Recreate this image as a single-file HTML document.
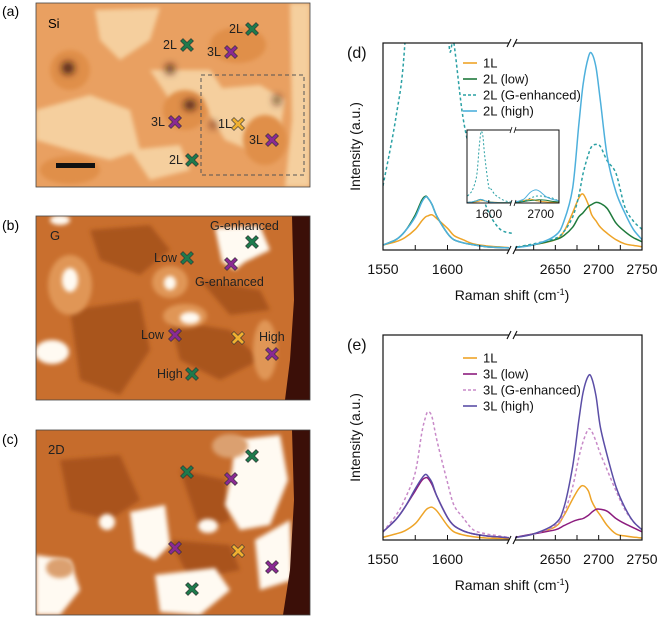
<!DOCTYPE html>
<html><head><meta charset="utf-8"><style>
body{margin:0;background:#fff;}
svg{display:block;font-family:"Liberation Sans",sans-serif;}
</style></head><body>
<svg id="fig" width="660" height="618" viewBox="0 0 660 618" xmlns="http://www.w3.org/2000/svg">
<defs>
<filter id="blur2" x="-20%" y="-20%" width="140%" height="140%"><feGaussianBlur stdDeviation="2"/></filter>
<filter id="blur4" x="-50%" y="-50%" width="200%" height="200%"><feGaussianBlur stdDeviation="4"/></filter>
<clipPath id="clipA"><rect x="36" y="3" width="274" height="184"/></clipPath>
<clipPath id="clipB"><rect x="36" y="216" width="274" height="184"/></clipPath>
<clipPath id="clipC"><rect x="36" y="430" width="274" height="185"/></clipPath>
<g id="xm"><path d="M-6.5,-4 L-4,-6.5 L0,-2.5 L4,-6.5 L6.5,-4 L2.5,0 L6.5,4 L4,6.5 L0,2.5 L-4,6.5 L-6.5,4 L-2.5,0 Z" stroke="#333" stroke-width="0.6"/></g>
</defs>

<!-- Panel a -->
<text x="2" y="16" font-size="14">(a)</text>
<g clip-path="url(#clipA)">
<rect x="36" y="3" width="274" height="184" fill="#e9a061"/>
<g filter="url(#blur2)" fill="#f5cf9e">
<path d="M95,10 L160,8 L150,40 L120,60 L100,40 Z"/>
<path d="M36,110 L90,95 L130,110 L140,150 L110,160 L70,150 L36,140 Z"/>
<path d="M150,70 L210,70 L230,100 L200,110 L170,100 Z"/>
<path d="M200,90 L260,85 L285,100 L280,130 L250,150 L225,140 L210,115 Z"/>
<path d="M290,3 L310,3 L310,187 L285,187 L292,120 Z"/>
<path d="M130,150 L180,145 L190,170 L150,180 Z"/>
</g>
<g filter="url(#blur2)" fill="#e08f48">
<ellipse cx="238" cy="45" rx="28" ry="18"/>
<ellipse cx="265" cy="140" rx="22" ry="25"/>
<ellipse cx="185" cy="110" rx="22" ry="20"/>
<ellipse cx="70" cy="70" rx="20" ry="20"/>
<ellipse cx="70" cy="170" rx="30" ry="14"/>
</g>
<g filter="url(#blur4)" fill="#3a1408">
<ellipse cx="68" cy="68" rx="6" ry="6"/>
<ellipse cx="170" cy="69" rx="4" ry="5"/>
<ellipse cx="190" cy="105" rx="6" ry="5"/>
<ellipse cx="277" cy="100" rx="3" ry="5"/>
<ellipse cx="213" cy="125" rx="3" ry="3"/>
</g>
</g>
<rect x="36" y="3" width="274" height="184" fill="none" stroke="#444" stroke-width="0.8"/>
<text x="48" y="28" font-size="13">Si</text>
<rect x="201" y="75" width="103" height="100" fill="none" stroke="#555" stroke-width="1" stroke-dasharray="4,3"/>
<rect x="56" y="163" width="39" height="5" fill="#111"/>

<!-- Panel b -->
<text x="2" y="230" font-size="14">(b)</text>
<g clip-path="url(#clipB)">
<rect x="36" y="216" width="274" height="184" fill="#c96f2e"/>
<g filter="url(#blur2)" fill="#a9541f">
<path d="M90,230 L150,225 L170,250 L140,275 L100,260 Z"/>
<path d="M70,310 L140,300 L150,350 L120,395 L80,380 Z"/>
<path d="M170,320 L230,330 L260,360 L220,380 L180,360 Z"/>
<path d="M200,280 L260,290 L270,310 L230,315 Z"/>
</g>
<g filter="url(#blur2)" fill="#e09656">
<ellipse cx="70" cy="285" rx="22" ry="30"/>
<ellipse cx="170" cy="282" rx="18" ry="16"/>
<ellipse cx="185" cy="316" rx="22" ry="12"/>
<ellipse cx="265" cy="350" rx="12" ry="30"/>
</g>
<g filter="url(#blur2)" fill="#fffaf2">
<path d="M215,228 L260,226 L270,250 L245,262 L235,270 L222,262 Z"/>
<ellipse cx="70" cy="280" rx="8" ry="12"/>
<ellipse cx="170" cy="283" rx="6" ry="7"/>
<ellipse cx="52" cy="352" rx="17" ry="12"/>
<ellipse cx="190" cy="318" rx="10" ry="6"/>
<ellipse cx="60" cy="220" rx="10" ry="5"/>
</g>
<path d="M292,216 L310,216 L310,400 L285,400 L290,360 L294,300 Z" fill="#3b0f08"/>
</g>
<rect x="36" y="216" width="274" height="184" fill="none" stroke="#444" stroke-width="0.8"/>
<text x="50" y="240" font-size="13" fill="#222">G</text>

<!-- Panel c -->
<text x="2" y="444" font-size="14">(c)</text>
<g clip-path="url(#clipC)">
<rect x="36" y="430" width="274" height="185" fill="#c66c2c"/>
<g filter="url(#blur2)" fill="#a9531f">
<path d="M60,460 L120,455 L140,500 L110,520 L70,510 Z"/>
<path d="M180,470 L225,480 L230,520 L200,530 Z"/>
<path d="M170,540 L230,545 L240,570 L190,580 Z"/>
</g>
<g filter="url(#blur2)" fill="#fffaf2">
<path d="M235,440 L280,435 L288,480 L270,525 L240,530 L225,505 L232,470 Z"/>
<path d="M130,512 L165,505 L170,545 L155,560 L135,550 Z"/>
<path d="M155,575 L215,568 L230,590 L200,615 L160,612 Z"/>
<path d="M255,540 L290,520 L292,580 L260,590 Z"/>
<path d="M36,555 L70,560 L80,590 L60,615 L36,615 Z"/>
<ellipse cx="107" cy="522" rx="8" ry="8"/>
<ellipse cx="208" cy="526" rx="10" ry="7"/>
</g>
<g filter="url(#blur2)" fill="#dba070"><ellipse cx="230" cy="446" rx="18" ry="12"/><ellipse cx="60" cy="568" rx="14" ry="10"/></g>
<path d="M292,430 L310,430 L310,615 L283,615 L290,570 L294,500 Z" fill="#3b0f08"/>
</g>
<rect x="36" y="430" width="274" height="185" fill="none" stroke="#444" stroke-width="0.8"/>
<text x="48" y="454" font-size="13" fill="#222">2D</text>

<g id="markers"></g>
<g id="labels" font-size="12.5" fill="#222"></g>

<g id="chartD"></g>
<g id="chartE"></g>
</svg>
<script>
// ===== Chart data =====
const xLeft = [1550,1560,1567,1575,1580,1583,1585,1588,1592,1600,1605,1612,1620,1630,1640,1650];
const xRight = [2600,2625,2650,2660,2670,2677,2682,2688,2692,2697,2702,2710,2720,2730,2740,2750];
// panel d
const d1L_left   = [2.4,4,6,10,14,16,16.5,17,15,10.5,7,5,3,2,1.5,1];
const d1L_right  = [1,2.5,5,9,18,25,27,22,17,14,11,8,5,3,2.2,1.6];
const d2Llow_left  = [2.4,5,9,17,24,26,25,22,16,8,5,3.5,2.5,1.6,1.2,1];
const d2Llow_right = [1,2.5,5,7,11,16,18,21,22,23,22.5,20,13,9,6,4];
const d2LG_left  = [31,64,100,200,400,500,520,480,330,115,100,64,42,21,10.5,8];
const d2LG_right = [1,3,5.6,9,16,26,37,46,50,51,50,43,37,21,14,10];
const d2Lhigh_left  = [2.4,5,9,16,23,25.6,25,22,16,8,5,3.5,2.5,1.6,1.2,1];
const d2Lhigh_right = [1,2.5,7,14,30,60,80,93,95,88,72,45,28,18,10,5];
// panel e
const e1L_left   = [1.3,3,4.5,8,12,14.5,15.5,16,14,7,4,2.5,1.6,1,0.8,0.6];
const e1L_right  = [1,3,6.5,12,20,25,26.5,24,19,15,12,7,3,2,1.4,1];
const e3Llow_left  = [4,10,16,24,29,30.4,30,27,21,11,7,4.5,3,2,1.5,1];
const e3Llow_right = [1,3,5,7,9,10,10.5,12,13.5,15,15,14,10.5,8,6,4];
const e3LG_left  = [4,12,20,33,52,60,62.6,60,48,28,17,11,5,3,2,1];
const e3LG_right = [1,3,7,13,26,40,48,54,53,48,42,34,24,15,9,5];
const e3Lhigh_left  = [4,10,16,25,30,32,31,28,21,11,7,4.5,3,2,1.5,1];
const e3Lhigh_right = [1,3,8,16,36,58,72,80,79,70,55,41,26,16,9,5];
const xTicks = [1550,1600,2650,2700,2750];
const minorLeft = [1575,1600,1625];
const minorRight = [2625,2650,2675,2700,2725];
const legendD = ["1L","2L (low)","2L (G-enhanced)","2L (high)"];
const legendE = ["1L","3L (low)","3L (G-enhanced)","3L (high)"];

const NS="http://www.w3.org/2000/svg";
function mk(tag, attrs, parent){const e=document.createElementNS(NS,tag);for(const k in attrs)e.setAttribute(k,attrs[k]);if(parent)parent.appendChild(e);return e;}

function smooth(pts){
  let d="M"+pts[0][0].toFixed(1)+","+pts[0][1].toFixed(1);
  for(let i=0;i<pts.length-1;i++){
    const p0=pts[Math.max(0,i-1)],p1=pts[i],p2=pts[i+1],p3=pts[Math.min(pts.length-1,i+2)];
    const c1=[p1[0]+(p2[0]-p0[0])/6,p1[1]+(p2[1]-p0[1])/6];
    const c2=[p2[0]-(p3[0]-p1[0])/6,p2[1]-(p3[1]-p1[1])/6];
    d+=" C"+c1.map(v=>v.toFixed(1))+" "+c2.map(v=>v.toFixed(1))+" "+p2[0].toFixed(1)+","+p2[1].toFixed(1);
  }
  return d;
}

function drawChart(g, cfg){
  const {top,bottom,left,right,brk,xl,xr,yScale,series,legend,label,id,legendY}=cfg;
  const xL=v=>left+(v-xl[0])*(brk-left)/(xl[1]-xl[0]);
  const xR=v=>brk+(v-xr[0])*(right-brk)/(xr[1]-xr[0]);
  const y=v=>bottom-v*yScale;
  const clip=mk("clipPath",{id:"clip"+id},document.querySelector("defs"));
  mk("rect",{x:left,y:top,width:right-left,height:bottom-top},clip);
  const sg=mk("g",{"clip-path":"url(#clip"+id+")"},g);
  series.forEach(s=>{
    const pl=mk("path",{d:smooth(xLeft.map((v,i)=>[xL(v),y(s.l[i])])),fill:"none",stroke:s.c,"stroke-width":1.5},sg);
    
    
    if(s.dash)pl.setAttribute("stroke-dasharray","3,2.5");
    const pr=mk("path",{d:smooth(xRight.map((v,i)=>[xR(v),y(s.r[i])])),fill:"none",stroke:s.c,"stroke-width":1.5},sg);
    
    
    if(s.dash)pr.setAttribute("stroke-dasharray","3,2.5");
  });
  const fr=mk("rect",{x:left,y:top,width:right-left,height:bottom-top,fill:"none",stroke:"#111","stroke-width":1.2},g);
  
  
  [top,bottom].forEach(yy=>{
    mk("rect",{x:brk-3,y:yy-4,width:6,height:8,fill:"#fff"},g);
    mk("line",{x1:brk-5,y1:yy+4,x2:brk-1,y2:yy-4,stroke:"#111","stroke-width":1.1},g);
    mk("line",{x1:brk+1,y1:yy+4,x2:brk+5,y2:yy-4,stroke:"#111","stroke-width":1.1},g);
  });
  minorLeft.forEach(v=>mk("line",{x1:xL(v),y1:bottom,x2:xL(v),y2:bottom-5,stroke:"#111"},g));
  minorRight.forEach(v=>mk("line",{x1:xR(v),y1:bottom,x2:xR(v),y2:bottom-5,stroke:"#111"},g));
  xTicks.forEach(v=>{
    const t=mk("text",{x:v<2000?xL(v):xR(v),y:bottom+24,"font-size":14,"text-anchor":"middle",fill:"#111"},g);
    t.textContent=v;
    
    
  });
  const xt=mk("text",{x:512,y:bottom+50,"font-size":14,"text-anchor":"middle",fill:"#111"},g);
  xt.innerHTML='Raman shift (cm<tspan dy="-5" font-size="9">-1</tspan><tspan dy="5">)</tspan>';
  
  
  const yt=mk("text",{x:0,y:0,"font-size":14,"text-anchor":"middle",fill:"#111",transform:"translate("+(left-23)+","+((top+bottom)/2)+") rotate(-90)"},g);
  yt.textContent="Intensity (a.u.)";
  
  
  const pl=mk("text",{x:347,y:top+15,"font-size":16,fill:"#111"},g);
  pl.textContent=label;
  
  
  legend.forEach((n,i)=>{
    const s=series[i], yy=legendY+i*16;
    const ll=mk("line",{x1:463,y1:yy,x2:477,y2:yy,stroke:s.c,"stroke-width":1.6},g);
    if(s.dash)ll.setAttribute("stroke-dasharray","3,2");
    const lt=mk("text",{x:483,y:yy+4.5,"font-size":13,fill:"#111"},g);
    lt.textContent=n;
    
    
  });
  return {xL,xR,y};
}

const sD=[
 {n:"1l",c:"#eea428",l:d1L_left,r:d1L_right},
 {n:"2l-low",c:"#1f7a3c",l:d2Llow_left,r:d2Llow_right},
 {n:"2l-g-enhanced",c:"#2aa0a4",l:d2LG_left,r:d2LG_right,dash:true},
 {n:"2l-high",c:"#4eb0dc",l:d2Lhigh_left,r:d2Lhigh_right}];
const sE=[
 {n:"1l",c:"#eea428",l:e1L_left,r:e1L_right},
 {n:"3l-low",c:"#8c1c7e",l:e3Llow_left,r:e3Llow_right},
 {n:"3l-g-enhanced",c:"#c88ac8",l:e3LG_left,r:e3LG_right,dash:true},
 {n:"3l-high",c:"#5b4ea6",l:e3Lhigh_left,r:e3Lhigh_right}];

drawChart(document.getElementById("chartD"),{top:43,bottom:250,left:383,right:642,brk:512,xl:[1550,1650],xr:[2600,2750],yScale:2.07,series:sD,legend:legendD,label:"(d)",id:"D",legendY:63});
drawChart(document.getElementById("chartE"),{top:335,bottom:540,left:383,right:642,brk:512,xl:[1550,1650],xr:[2600,2750],yScale:2.05,series:sE,legend:legendE,label:"(e)",id:"E",legendY:358});

// inset in chart d
(function(){
  const g=document.getElementById("chartD");
  const L=467,R=559,T=130,B=203,K=513;
  const xL=v=>L+(v-1555)*(K-L)/95, xR=v=>K+(v-2650)*(R-K)/83, y=v=>B-v*(B-T)/530;
  mk("rect",{x:L,y:T,width:R-L,height:B-T,fill:"#fff"},g);
  const clip=mk("clipPath",{id:"clipIn"},document.querySelector("defs"));
  mk("rect",{x:L,y:T,width:R-L,height:B-T},clip);
  const sg=mk("g",{"clip-path":"url(#clipIn)"},g);
  sD.forEach(s=>{
    const a=mk("path",{d:smooth(xLeft.map((v,i)=>[xL(v),y(s.l[i])]).filter(p=>p[0]<=K)),fill:"none",stroke:s.c,"stroke-width":1},sg);
    
    
    const b=mk("path",{d:smooth(xRight.map((v,i)=>[xR(v),y(s.r[i])]).filter(p=>p[0]>=K)),fill:"none",stroke:s.c,"stroke-width":1},sg);
    
    
    if(s.dash){a.setAttribute("stroke-dasharray","2,2");b.setAttribute("stroke-dasharray","2,2");}
  });
  const f=mk("rect",{x:L,y:T,width:R-L,height:B-T,fill:"none",stroke:"#111","stroke-width":1},g);
  
  
  [T,B].forEach(yy=>{
    mk("rect",{x:K-2,y:yy-3,width:4,height:6,fill:"#fff"},g);
    mk("line",{x1:K-3,y1:yy+3,x2:K-1,y2:yy-3,stroke:"#111","stroke-width":0.8},g);
    mk("line",{x1:K+1,y1:yy+3,x2:K+3,y2:yy-3,stroke:"#111","stroke-width":0.8},g);
  });
  [[xL(1600),"1600"],[xR(2700),"2700"]].forEach(([x,t])=>{
    mk("line",{x1:x,y1:B,x2:x,y2:B-3,stroke:"#111"},g);
    const tx=mk("text",{x:x,y:B+15,"font-size":12,"text-anchor":"middle",fill:"#111"},g);
    tx.textContent=t;
    
    
  });
})();

// markers
const GREEN="#1e7a4c",PURP="#8a2a92",ORNG="#f0b030";
const markerList=[
 [252,29,GREEN],[187,45,GREEN],[231,52,PURP],[175,122,PURP],[238,124,ORNG],[272,140,PURP],[192,160,GREEN],
 [252,242,GREEN],[187,258,GREEN],[231,264,PURP],[175,335,PURP],[238,338,ORNG],[272,354,PURP],[192,374,GREEN],
 [252,456,GREEN],[187,472,GREEN],[231,479,PURP],[175,548,PURP],[238,551,ORNG],[272,567,PURP],[192,589,GREEN]];
const mg=document.getElementById("markers");
markerList.forEach(m=>{
  const u=mk("use",{href:"#xm",x:m[0],y:m[1],fill:m[2]},mg);
  
  
});
const labelList=[
 [163,49,"2L"],[229,33,"2L"],[207,56,"3L"],[151,126,"3L"],[218,128,"1L"],[249,144,"3L"],[169,164,"2L"],
 [210,230,"G-enhanced"],[154,262,"Low"],[195,286,"G-enhanced"],[141,339,"Low"],[259,341,"High"],[157,378,"High"]];
const lg=document.getElementById("labels");
labelList.forEach(l=>{
  const t=mk("text",{x:l[0],y:l[1]},lg);
  t.textContent=l[2];
  
  
});
</script>
</body></html>
